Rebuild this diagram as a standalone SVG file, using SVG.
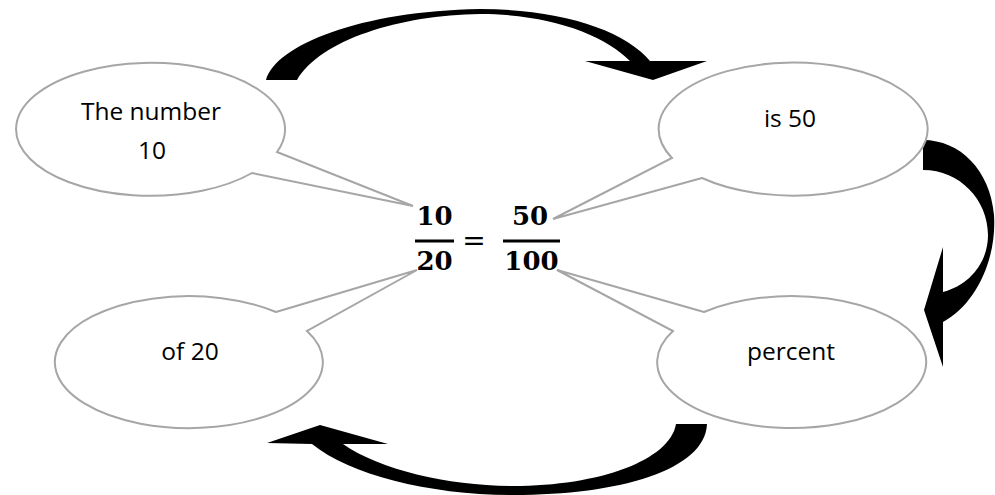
<svg xmlns="http://www.w3.org/2000/svg" width="995" height="495" viewBox="0 0 995 495">
<style>
.callout{fill:#fff;stroke:#a6a6a6;stroke-width:2;stroke-linejoin:miter}
.lbl{font-family:"Open Sans","Noto Sans",sans-serif;font-size:24.5px;fill:#000;text-anchor:middle}
.eq{font-family:"DejaVu Serif",serif;font-weight:bold;font-size:26px;fill:#000;text-anchor:middle}
.eqs{font-family:"DejaVu Serif",serif;font-size:28px;fill:#000;text-anchor:middle}
.arrow{fill:#000;stroke:none}
</style>
<rect width="995" height="495" fill="#fff"/>
<g id="connectors">
<path class="arrow" d="M266,80 C276,45 360,11 480,9 C560,9 625,30 650,61 L707,61 L653,80 L585,61 L630,61 C605,35 550,14 480,14 C400,15 320,40 297,80 Z"/>
<path class="arrow" d="M923,140 C960,140 990,170 994,215 C997,260 975,305 943,322 L943,367 L924,310 L943,247 L943,292 C970,285 988,262 988,235 C988,200 960,170 923,170 Z"/>
<path class="arrow" d="M676,424 L707,424 C705,470 620,495 513,495 C430,495 350,475 312,444 L267,443 L320,425 L388,444 L343,444 C380,470 450,486 513,486 C600,486 670,460 676,424 Z"/>
</g>
<g id="node-number10">
<path class="callout" d="M277,152 L413,206 L252,173 A134.5,66.5 0 1 1 277,152 Z"/>
<text class="lbl" x="151" y="120">The number</text>
<text class="lbl" x="152" y="159">10</text>
</g>
<g id="node-is50">
<path class="callout" d="M702,178 L553,219 L672,158 A134.5,66.5 0 1 1 702,178 Z"/>
<text class="lbl" x="790" y="127">is 50</text>
</g>
<g id="node-of20">
<path class="callout" d="M276,312 L417,270 L307,331 A134,66 0 1 1 276,312 Z"/>
<text class="lbl" x="190" y="360">of 20</text>
</g>
<g id="node-percent">
<path class="callout" d="M704,312 L557,270 L673,331 A134.5,66 0 1 0 704,312 Z"/>
<text class="lbl" x="791" y="360">percent</text>
</g>
<g id="node-equation">
<text class="eq" x="434.5" y="225">10</text>
<rect x="415" y="239.5" width="39" height="3" fill="#000"/>
<text class="eq" x="434.5" y="270">20</text>
<text class="eqs" x="474" y="250">=</text>
<text class="eq" x="530" y="225">50</text>
<rect x="503" y="239.5" width="57" height="3" fill="#000"/>
<text class="eq" x="531.5" y="270">100</text>
</g>
</svg>
